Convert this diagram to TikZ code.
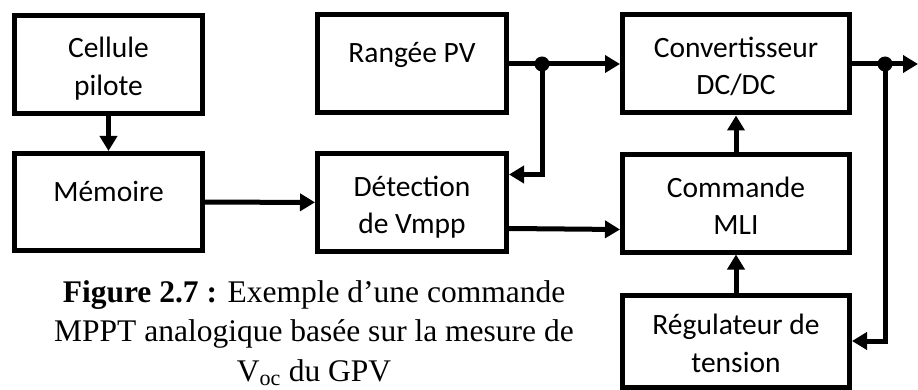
\documentclass[tikz,border=0pt]{standalone}
\usepackage{fontspec}
\setmainfont{Liberation Serif}
\newfontfamily\blkfont{Carlito}
\usetikzlibrary{arrows.meta, positioning}
\definecolor{mpInk}{HTML}{000000}
\tikzset{
  blkbox/.style={rectangle, draw=mpInk, line width=5pt, fill=white,
    minimum height=98pt, inner sep=0pt, align=center,
    font=\blkfont\fontsize{29.5}{37.5}\selectfont,
    text height=69pt, text depth=7pt},
  blkone/.style={blkbox, text height=13pt, text depth=15pt},
  blkarrow/.style={-{Triangle[length=15pt, width=17pt]}, line width=5pt, mpInk},
  junction/.style={circle, fill=mpInk, minimum size=15pt, inner sep=0pt}
}
\begin{document}
\begin{tikzpicture}[x=1pt, y=-1pt]
  \useasboundingbox (0,0) rectangle (918,390);
  % left column
  \node[blkbox, minimum width=188pt] (cell) at (108.5,64.5) {Cellule\\pilote};
  \node[blkone, minimum width=188pt, minimum height=97pt, below=35pt of cell] (mem) {Mémoire};
  % middle column
  \node[blkone, minimum width=189pt] (pv) at (412,64) {Rangée PV};
  \node[blkbox, minimum width=189pt, minimum height=97pt, below=36pt of pv] (vmpp) {Détection\\de Vmpp};
  % right column
  \node[blkbox, minimum width=227pt] (conv) at (736,64) {Convertisseur\\DC/DC};
  \node[blkbox, minimum width=227pt, minimum height=97pt, below=37pt of conv] (mli) {Commande\\MLI};
  \node[blkbox, minimum width=227pt, minimum height=92pt, below=38pt of mli] (reg) {Régulateur de\\tension};
  \coordinate[right=33pt of pv.east] (jpv);
  \coordinate[right=33pt of conv.east] (jout);
  \coordinate (out) at (918,64);

  \draw[blkarrow] (cell) -- (mem);
  \draw[blkarrow] (mem) -- (vmpp);
  \draw[blkarrow] (pv) -- (conv);
  \draw[blkarrow] (jpv) |- ([yshift=28pt]vmpp.east);
  \draw[blkarrow] ([yshift=-26pt]vmpp.east) -- ([yshift=-26pt]mli.west);
  \draw[blkarrow] (mli) -- (conv);
  \draw[blkarrow] (reg) -- (mli);
  \draw[blkarrow] (conv.east) -- (out);
  \draw[blkarrow] (jout) |- (reg.east);
  \node[junction] at (jpv) {};
  \node[junction] at (jout) {};

  \node[align=center, inner sep=0pt, font=\fontsize{31.5}{39.5}\selectfont] (caption) at (314,333)
    {\textbf{Figure 2.7 :} Exemple d’une commande\\MPPT analogique basée sur la mesure de\\V\textsubscript{oc} du GPV};
\end{tikzpicture}
\end{document}
